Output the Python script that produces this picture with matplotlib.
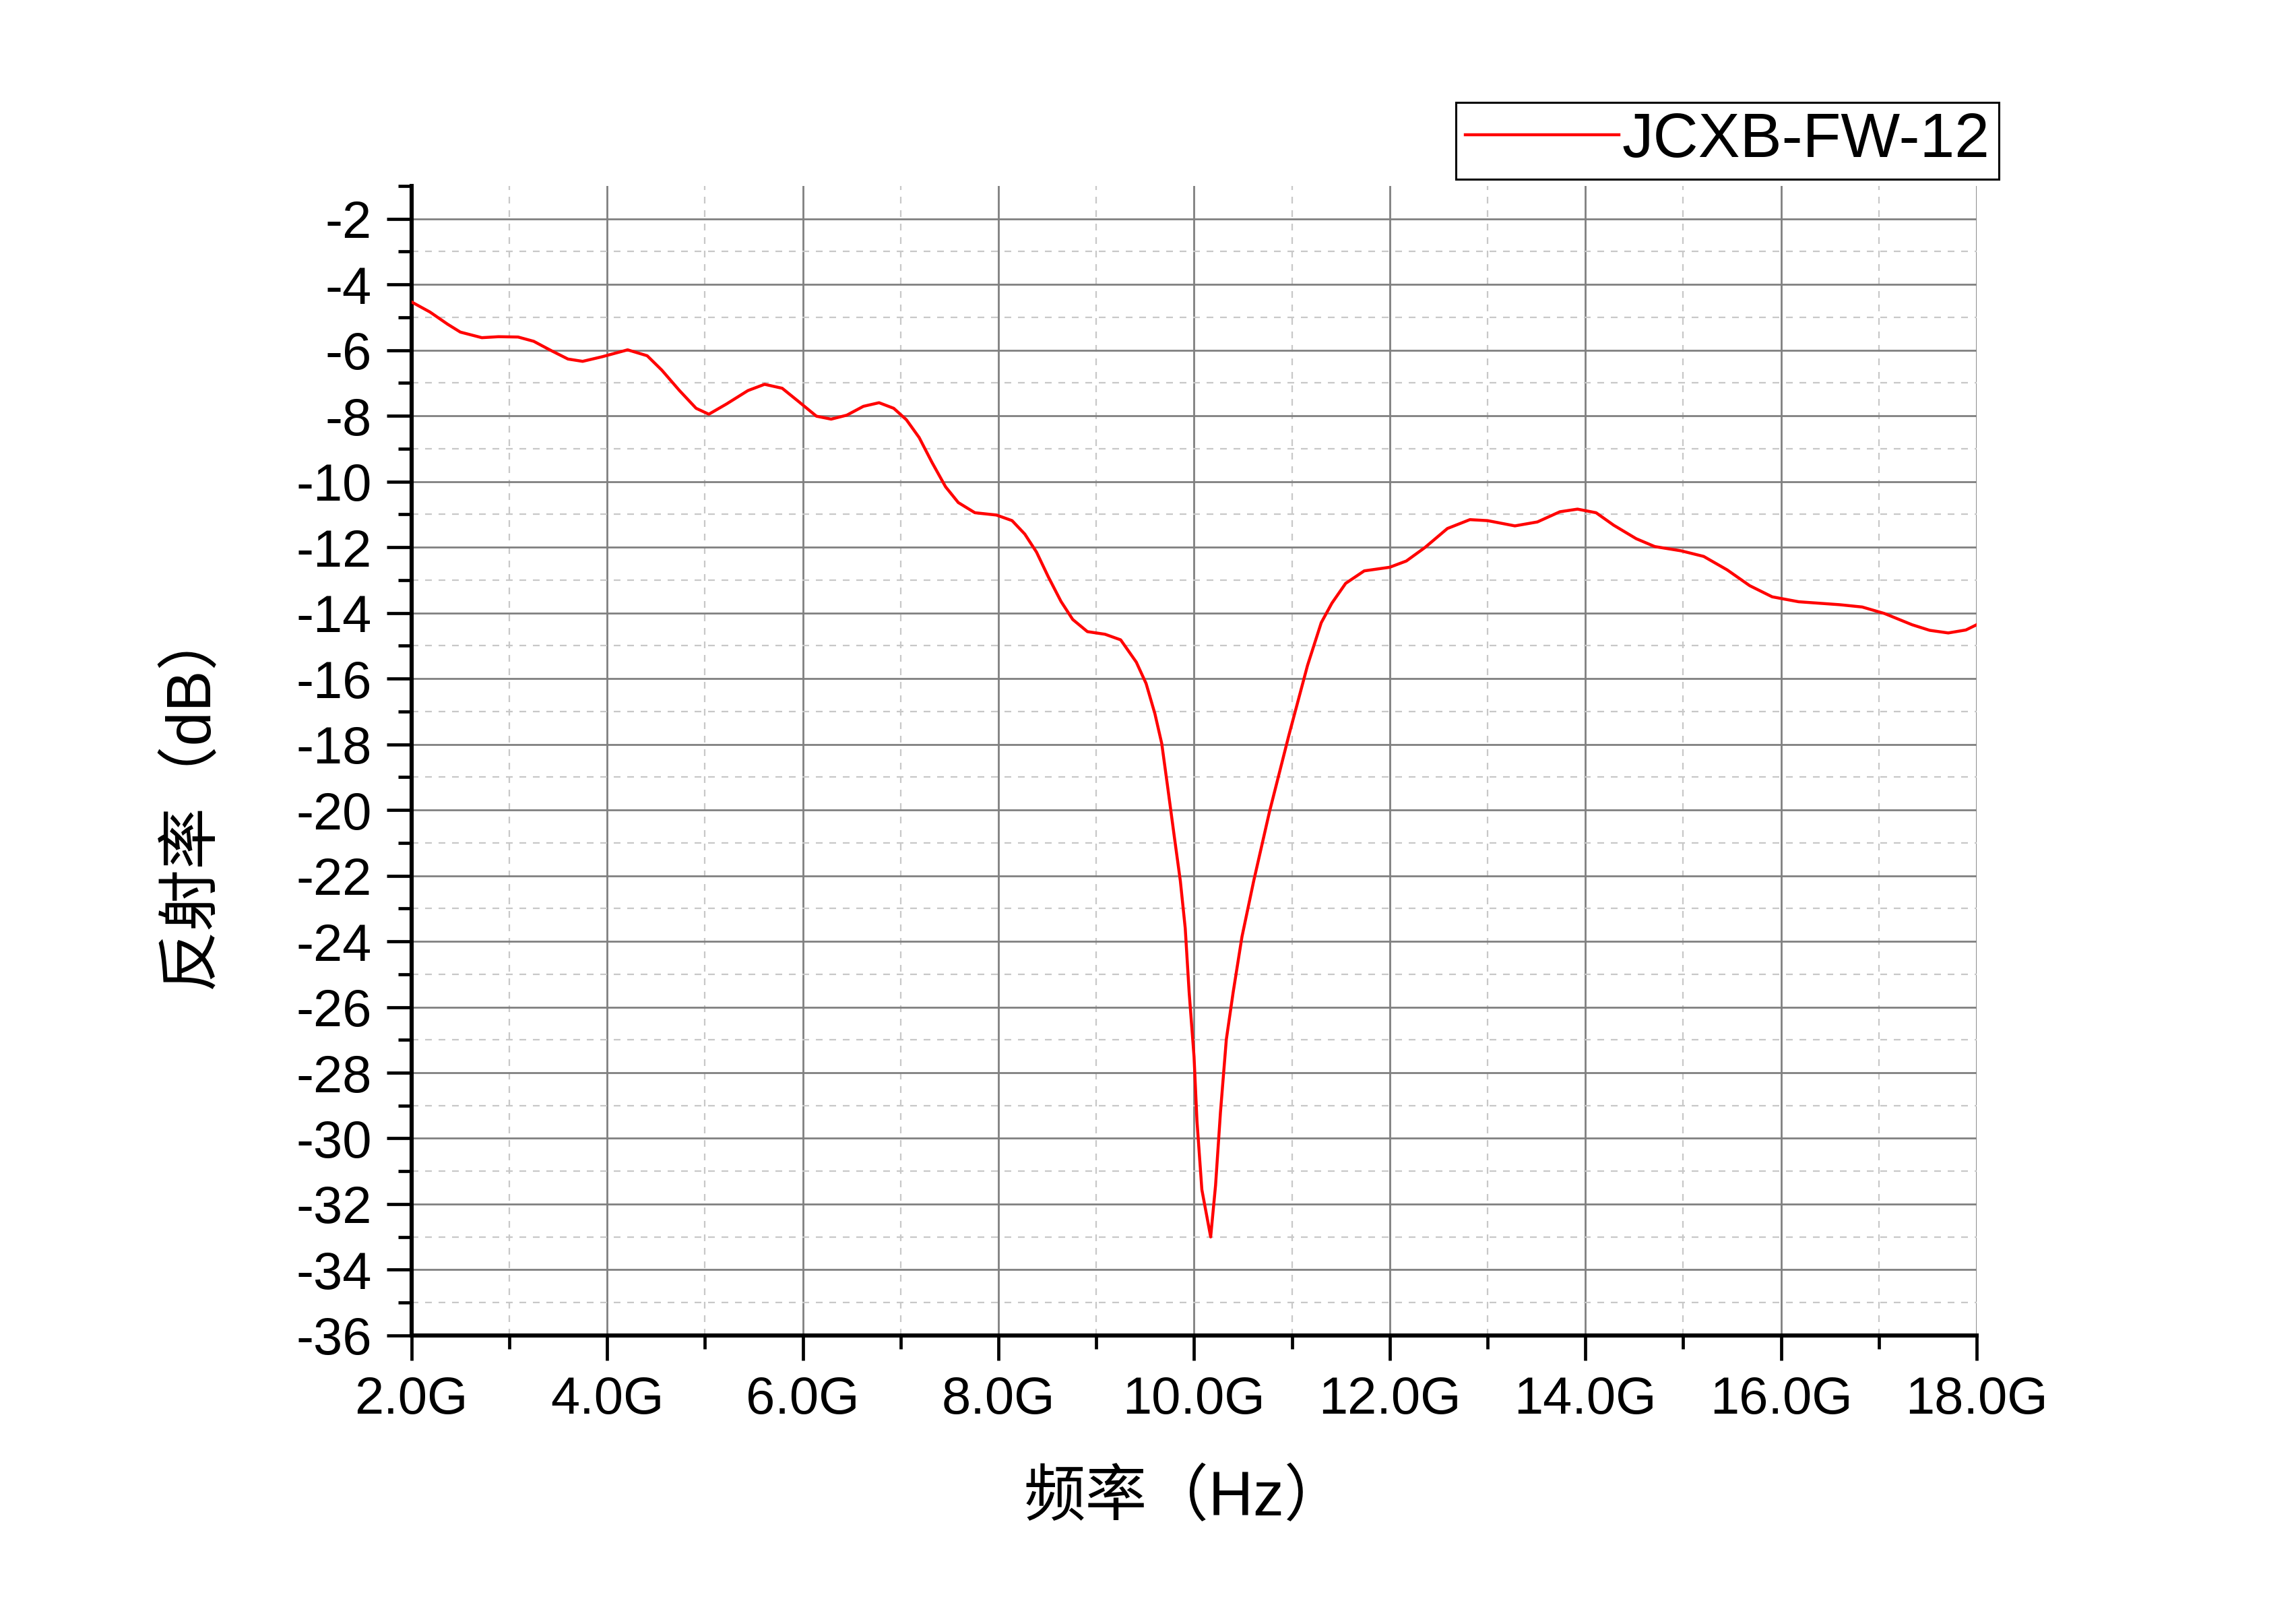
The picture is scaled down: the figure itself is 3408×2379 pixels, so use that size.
import matplotlib
matplotlib.use("Agg")
import matplotlib.pyplot as plt
from matplotlib.ticker import FixedLocator, FixedFormatter

plt.rcParams['font.family'] = ['Liberation Sans', 'Noto Sans CJK SC', 'DejaVu Sans']
plt.rcParams['lines.scale_dashes'] = False
plt.rcParams['axes.unicode_minus'] = False

# ---- data ----
freq_ghz = [2.0, 2.19, 2.37, 2.5, 2.72, 2.89, 3.09, 3.25, 3.42, 3.60, 3.75, 3.95,
            4.21, 4.41, 4.56, 4.74, 4.91, 5.04, 5.22, 5.44, 5.61, 5.79, 5.96,
            6.14, 6.29, 6.45, 6.62, 6.78, 6.93, 7.06, 7.19, 7.32, 7.46, 7.59,
            7.76, 7.98, 8.14, 8.27, 8.39, 8.51, 8.64, 8.76, 8.91, 9.09, 9.25,
            9.41, 9.51, 9.60, 9.67, 9.73, 9.80, 9.86, 9.91, 9.95, 10.0, 10.03,
            10.08, 10.17, 10.22, 10.27, 10.33, 10.40, 10.49, 10.61, 10.77, 10.97,
            11.16, 11.30, 11.41, 11.55, 11.74, 12.0, 12.17, 12.36, 12.59, 12.82,
            13.0, 13.28, 13.51, 13.74, 13.92, 14.11, 14.29, 14.52, 14.71, 14.98,
            15.21, 15.45, 15.68, 15.91, 16.18, 16.60, 16.83, 17.06, 17.34, 17.52,
            17.71, 17.89, 18.0]
reflectivity_db = [-4.53, -4.84, -5.21, -5.45, -5.62, -5.59, -5.60, -5.73, -6.0, -6.27,
                   -6.34, -6.20, -5.99, -6.17, -6.61, -7.23, -7.77, -7.95, -7.64, -7.23,
                   -7.04, -7.16, -7.57, -8.01, -8.10, -7.98, -7.71, -7.60, -7.77, -8.12,
                   -8.66, -9.41, -10.16, -10.64, -10.95, -11.02, -11.19, -11.60, -12.15,
                   -12.90, -13.65, -14.20, -14.57, -14.65, -14.82, -15.50, -16.15, -17.07,
                   -17.98, -19.29, -20.85, -22.16, -23.60, -25.55, -27.51, -29.47, -31.56,
                   -33.0, -31.43, -29.21, -26.99, -25.55, -23.86, -22.16, -20.07, -17.72,
                   -15.6, -14.3, -13.7, -13.10, -12.72, -12.61, -12.42, -12.01, -11.43,
                   -11.16, -11.19, -11.35, -11.23, -10.92, -10.84, -10.95, -11.33, -11.74,
                   -11.98, -12.11, -12.28, -12.69, -13.17, -13.51, -13.66, -13.75, -13.82,
                   -14.02, -14.36, -14.53, -14.61, -14.52, -14.36]
series_name = "JCXB-FW-12"

x_major = [2, 4, 6, 8, 10, 12, 14, 16, 18]
x_major_labels = ["2.0G", "4.0G", "6.0G", "8.0G", "10.0G", "12.0G", "14.0G", "16.0G", "18.0G"]
x_minor = [3, 5, 7, 9, 11, 13, 15, 17]
y_major = list(range(-36, -1, 2))
y_major_labels = [str(v) for v in y_major]
y_minor = list(range(-35, 0, 2))

x_label = "频率（Hz）"
y_label = "反射率（dB）"

# ---- figure ----
fig = plt.figure(figsize=(17.04, 11.895), dpi=200)
ax = fig.add_axes([0.1792, 0.1669, 0.8609 - 0.1792, 0.884 - 0.1669])

ax.plot(freq_ghz, reflectivity_db, color="#ff0000", lw=1.6, label=series_name, zorder=3,
        solid_joinstyle="round")

ax.set_xlim(2, 18)
ax.set_ylim(-36, -1)

ax.xaxis.set_major_locator(FixedLocator(x_major))
ax.xaxis.set_major_formatter(FixedFormatter(x_major_labels))
ax.xaxis.set_minor_locator(FixedLocator(x_minor))
ax.yaxis.set_major_locator(FixedLocator(y_major))
ax.yaxis.set_major_formatter(FixedFormatter(y_major_labels))
ax.yaxis.set_minor_locator(FixedLocator(y_minor))

ax.grid(which="major", color="#808080", lw=1.0, ls="-", zorder=0)
ax.grid(which="minor", color="#c8c8c8", lw=0.8, ls=(0, (3.6, 3.6)), zorder=0)
ax.set_axisbelow(True)

for s in ["top", "right"]:
    ax.spines[s].set_visible(False)
for s in ["left", "bottom"]:
    ax.spines[s].set_linewidth(2.2)
    ax.spines[s].set_color("black")

ax.tick_params(which="major", direction="out", length=13.3, width=1.7, colors="black",
               labelsize=28, pad=8)
ax.tick_params(which="minor", direction="out", length=7.2, width=1.7, colors="black")

# hide minor grid line at the top edge (-1)
fig.canvas.draw()
for t in ax.yaxis.get_minor_ticks():
    if abs(t.get_loc() + 1) < 1e-9:
        t.gridline.set_visible(False)

fig.text(0.516, 0.065, x_label, ha="center", va="center", fontsize=33)
fig.text(0.0832, 0.503, y_label, ha="center", va="center", fontsize=33, rotation=90)

leg = ax.legend(loc="upper right", bbox_to_anchor=(0.8707, 0.9361),
                bbox_transform=fig.transFigure, borderaxespad=0, fontsize=33.5,
                frameon=True, fancybox=False, framealpha=1, edgecolor="black",
                handlelength=2.45, handletextpad=0.05, borderpad=0.15)
leg.get_frame().set_linewidth(1.1)

fig.savefig("out.png", dpi=200, facecolor="white")
